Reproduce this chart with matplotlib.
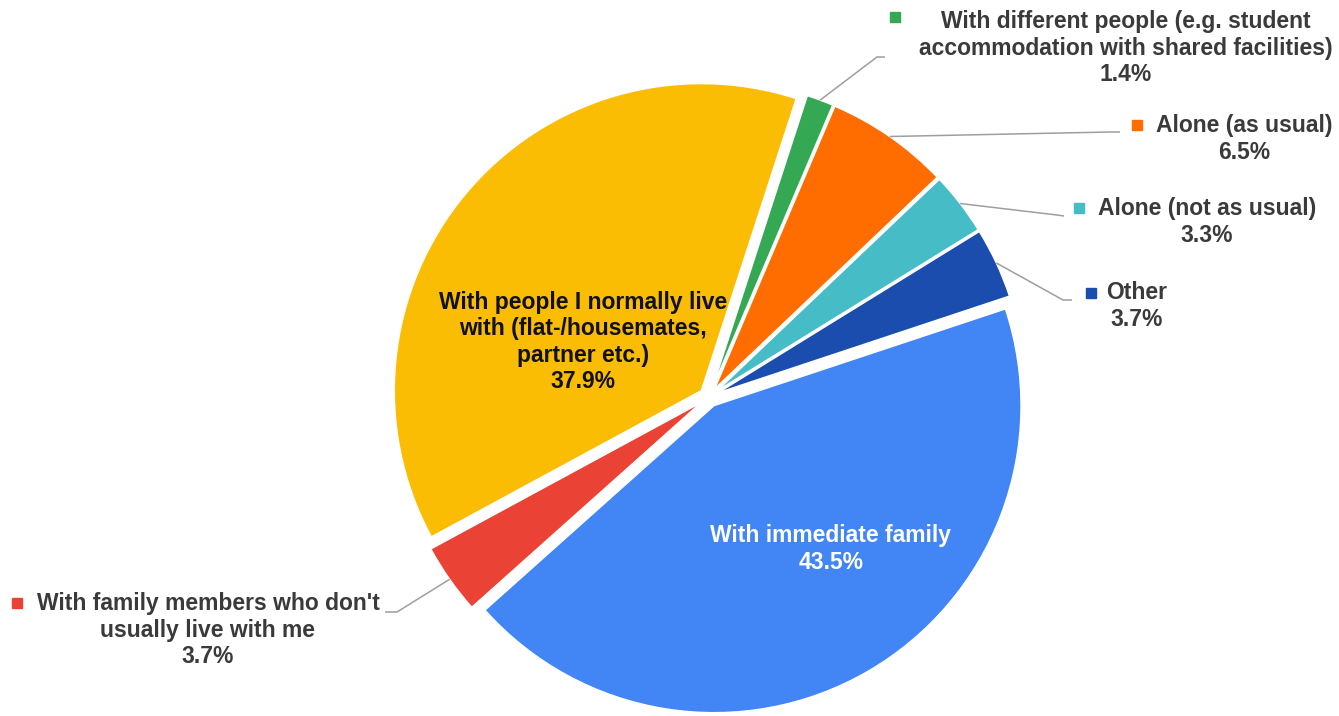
import numpy as np
import matplotlib
matplotlib.use("Agg")
import matplotlib.pyplot as plt

# Living situation shares, clockwise from the top
categories = [
    "With different people (e.g. student\naccommodation with shared facilities)",
    "Alone (as usual)",
    "Alone (not as usual)",
    "Other",
    "With immediate family",
    "With family members who don't\nusually live with me",
    "With people I normally live\nwith (flat-/housemates,\npartner etc.)",
]
shares = [1.4, 6.5, 3.3, 3.7, 43.5, 3.7, 37.9]
colors = ["#34A853", "#FF6D01", "#46BDC6", "#1A4DAE", "#4285F4", "#EA4335", "#FBBC04"]

W, H = 1339, 716
plt.rcParams["font.family"] = ["Liberation Sans", "DejaVu Sans"]

fig = plt.figure(figsize=(W / 100, H / 100), dpi=100)
ax = fig.add_axes([0, 0, 1, 1])

# pie laid out in pixel units (y measured from the top of the image)
cx, cy, radius, gap = 709, 397, 307, 10
wedges, _ = ax.pie(
    shares, colors=colors, startangle=72, counterclock=False,
    center=(cx, H - cy), radius=radius, explode=[gap] * len(shares),
    wedgeprops=dict(edgecolor="white", linewidth=1),
)
ax.set_xlim(0, W)
ax.set_ylim(0, H)
ax.set_aspect("equal")
ax.axis("off")

label_color = "#3a3a3a"
fs = 16.5
ls = 1.18

# outside labels: (text centre, leader elbow, leader end, marker) in image pixels
outside = {
    0: dict(text=(1126, 48), elbow=(877, 57), end=(885, 57), marker=(895, 17)),
    1: dict(text=(1244, 139), elbow=(1110, 132), end=(1120, 132), marker=(1137, 125)),
    2: dict(text=(1207, 222), elbow=(1057, 215), end=(1064, 216), marker=(1079, 208)),
    3: dict(text=(1137, 306), elbow=(1063, 300), end=(1072, 300), marker=(1091, 293)),
    5: dict(text=(208, 630), elbow=(397, 612), end=(385, 612), marker=(17, 603)),
}

for i, spec in outside.items():
    w = wedges[i]
    mid = np.deg2rad((w.theta1 + w.theta2) / 2)
    x0 = w.center[0] + w.r * np.cos(mid)
    y0 = w.center[1] + w.r * np.sin(mid)
    ex, ey = spec["elbow"]
    nx, ny = spec["end"]
    ax.plot([x0, ex, nx], [y0, H - ey, H - ny], color="#9e9e9e", lw=1.1,
            solid_capstyle="butt", zorder=1)
    tx, ty = spec["text"]
    ax.text(tx, H - ty, f"{categories[i]}\n{shares[i]}%", ha="center", va="center",
            fontsize=fs, fontweight="bold", color=label_color, linespacing=ls)
    mx, my = spec["marker"]
    ax.plot(mx, H - my, marker="s", markersize=7.5, color=colors[i], lw=0)

# labels drawn on the two big slices
ax.text(583, H - 342, f"{categories[6]}\n{shares[6]}%", ha="center", va="center",
        fontsize=fs, fontweight="bold", color="#111111", linespacing=ls)
ax.text(831, H - 549, f"{categories[4]}\n{shares[4]}%", ha="center", va="center",
        fontsize=fs, fontweight="bold", color="white", linespacing=ls)

fig.savefig("out.png", dpi=100, facecolor="white")
